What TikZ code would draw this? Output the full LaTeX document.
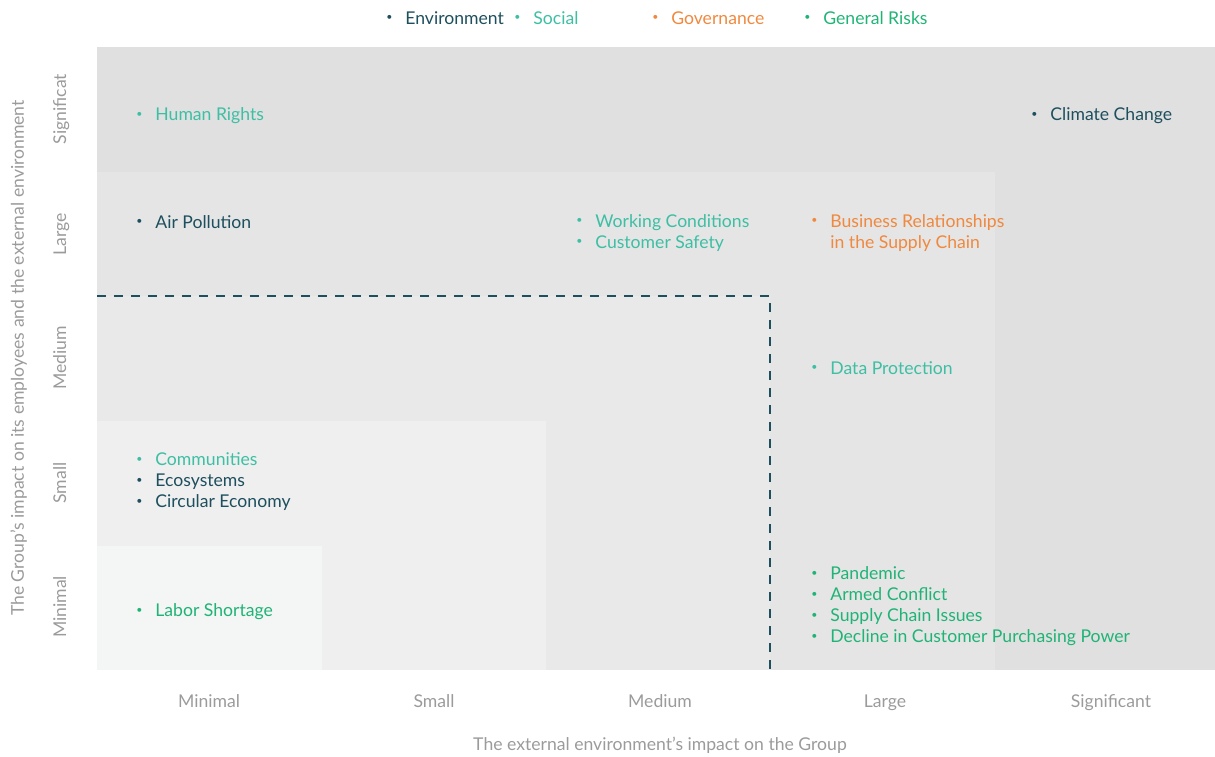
\documentclass[tikz,border=0pt]{standalone}
\usepackage{fontspec}
\setmainfont{Lato}
\usepackage{graphicx}
\usetikzlibrary{positioning}
\definecolor{envcol}{HTML}{1D4F5E}
\definecolor{socialcol}{HTML}{3DBFA4}
\definecolor{govcol}{HTML}{F0883E}
\definecolor{riskcol}{HTML}{1FB476}
\definecolor{axisgray}{HTML}{9B9B9B}
\definecolor{bandA}{HTML}{E0E0E0}
\definecolor{bandB}{HTML}{E5E5E5}
\definecolor{bandC}{HTML}{E9E9E9}
\definecolor{bandD}{HTML}{EFEFEF}
\definecolor{bandE}{HTML}{F4F5F5}
% small bullet followed by the indent of the item text
\newcommand{\bul}{\makebox[9.5pt][l]{\raisebox{0.22em}{\scalebox{0.6}{\textbullet}}}}
\newcommand{\nobul}{\makebox[9.5pt][l]{}}
\tikzset{
    txt/.style={font=\fontsize{8.8}{10.5}\selectfont},
    entry/.style={txt, anchor=west, align=left, inner sep=0pt},
    axislbl/.style={txt, text=axisgray, inner sep=0pt, anchor=base}
}

\begin{document}
\begin{tikzpicture}[x=0.5pt, y=-0.5pt]
    \useasboundingbox (0,0) rectangle (1215,756);
    % nested bands, darkest first
    \fill[bandA] (97,47) rectangle (1215,670);
    \fill[bandB] (97,172) rectangle (995,670);
    \fill[bandC] (97,296) rectangle (770,670);
    \fill[bandD] (97,421) rectangle (546,670);
    \fill[bandE] (97,546) rectangle (322,670);
    \coordinate (d1) at (97,296);
    \coordinate (d2) at (770,296);
    \coordinate (d3) at (770,670);
    \draw[envcol, line width=1pt, dash pattern=on 4.5pt off 4pt] (d1) -- (d2) -- (d3);

    % legend
    \node[entry, text=envcol] (lenv) at (386,18) {\bul Environment};
    \node[entry, text=socialcol] (lsoc) at (514,18) {\bul Social};
    \node[entry, text=govcol] (lgov) at (652,18) {\bul Governance};
    \node[entry, text=riskcol] (lrisk) at (804,18) {\bul General Risks};

    % topics
    \node[entry, text=socialcol] (hr) at (136,116) {\bul Human Rights};
    \node[entry, text=envcol] (cc) at (1031,116) {\bul Climate Change};
    \node[entry, text=envcol] (ap) at (136,222) {\bul Air Pollution};
    \node[entry, text=socialcol] (wc) at (576,233) {\bul Working Conditions\\ \bul Customer Safety};
    \node[entry, text=govcol] (br) at (811,233) {\bul Business Relationships\\ \nobul in the Supply Chain};
    \node[entry, text=socialcol] (dp) at (811,368) {\bul Data Protection};
    \node[entry] (cm) at (136,482) {\textcolor{socialcol}{\bul Communities}\\
        \textcolor{envcol}{\bul Ecosystems}\\ \textcolor{envcol}{\bul Circular Economy}};
    \node[entry, text=riskcol] (ls) at (136,612) {\bul Labor Shortage};
    \node[entry, text=riskcol] (pd) at (811,606.5) {\bul Pandemic\\ \bul Armed Conflict\\
        \bul Supply Chain Issues\\ \bul Decline in Customer Purchasing Power};

    % axes
    \foreach \lbl/\xpos [count=\i] in {Minimal/209, Small/434, Medium/660, Large/885, Significant/1111}
        \node[axislbl] (x\i) at (\xpos,707) {\lbl};
    \foreach \lbl/\ypos [count=\i] in {Significat/109, Large/234, Medium/358, Small/483, Minimal/607}
        \node[axislbl, rotate=90] (y\i) at (66,\ypos) {\lbl};
    \node[axislbl] (xtitle) at (660,750) {The external environment’s impact on the Group};
    \node[axislbl, rotate=90] (ytitle) at (24,358) {The Group's impact on its employees and the external environment};
\end{tikzpicture}
\end{document}
